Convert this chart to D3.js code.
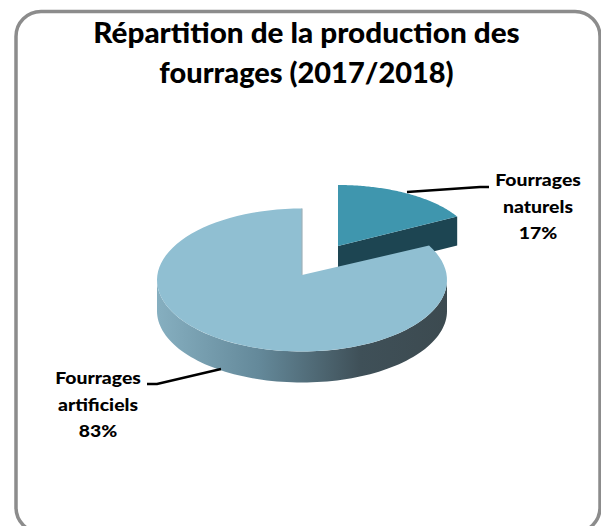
<!DOCTYPE html>
<html><head><meta charset="utf-8">
<script src="https://cdn.jsdelivr.net/npm/d3@7"></script>
<style>html,body{margin:0;padding:0;background:#fff}svg{display:block}text{font-family:Lato,Carlito,sans-serif;font-weight:900;fill:#000}</style>
</head><body><script>
const categories = ["Fourrages naturels", "Fourrages artificiels"];
const shares = [17, 83];
const labelLines = [["Fourrages", "naturels", "17%"], ["Fourrages", "artificiels", "83%"]];
const titleLines = ["Répartition de la production des", "fourrages (2017/2018)"];
const topColors = ["#3f96ae", "#90bfd2"];

const W = 601, H = 526;
const svg = d3.select("body").append("svg").attr("width", W).attr("height", H);
const defs = svg.append("defs");
const grad = defs.append("linearGradient").attr("id", "side");
[[0, "#86afc0"], [0.35, "#64899a"], [0.7, "#3f5058"], [1, "#3c4a50"]].forEach(([o, c]) =>
  grad.append("stop").attr("offset", o).attr("stop-color", c));

svg.append("rect").attr("x", 16).attr("y", 11.5).attr("width", 584).attr("height", 521).attr("rx", 25)
  .attr("fill", "#fff").attr("stroke", "#8c8c8c").attr("stroke-width", 3.5);

// Stretched horizontally, as the reference picture is
function stretchedText(parent, str, x, y, size, sx) {
  parent.append("text").attr("transform", `translate(${x},${y}) scale(${sx},1)`)
    .attr("text-anchor", "middle").attr("font-size", size).text(str);
}
const titleG = svg.append("g");
const titleStretch = [1.06, 1.035];
titleLines.forEach((s, i) => stretchedText(titleG, s, 306.5, 43 + i * 40, 28, titleStretch[i]));

const arcs = d3.pie().sort(null)(shares);
const depth = 31;
const geom = [
  { cx: 338, cy: 246, ax: 338, ay: 246, rx: 136, ry: 61 },
  { cx: 302, cy: 280, ax: 302, ay: 275, rx: 145, ry: 71.5 }
];
const ptX = (g, a) => g.cx + g.rx * Math.sin(a);
const ptY = (g, a) => g.cy - g.ry * Math.cos(a);
const line = d3.line().x(d => d[0]).y(d => d[1]);
const samples = (a0, a1) => d3.range(0, 91).map(i => a0 + (a1 - a0) * i / 90);

function rimPath(g, a0, a1) {
  const s = samples(a0, a1);
  const upper = s.map(a => [ptX(g, a), ptY(g, a)]);
  const lower = s.slice().reverse().map(a => [ptX(g, a), ptY(g, a) + depth]);
  return line(upper.concat(lower)) + "Z";
}
function topPath(g, d) {
  return line([[g.ax, g.ay]].concat(samples(d.startAngle, d.endAngle).map(a => [ptX(g, a), ptY(g, a)]))) + "Z";
}
const pie = svg.append("g");

// exploded slice: cut face below its trailing edge, then top
const g0 = geom[0], a0 = arcs[0];
const p0 = [ptX(g0, a0.endAngle), ptY(g0, a0.endAngle)];
pie.append("path").attr("fill", "#1d4552")
  .attr("d", line([[g0.ax, g0.ay], p0, [p0[0], p0[1] + depth - 2], [g0.ax, g0.ay + depth - 2]]) + "Z");
pie.append("path").attr("d", topPath(g0, a0)).attr("fill", topColors[0]);

// large slice: front rim, top, inner wall edge
const g1 = geom[1], a1 = arcs[1];
pie.append("path").attr("fill", "url(#side)").attr("d", rimPath(g1, Math.PI / 2, 3 * Math.PI / 2));
pie.append("path").attr("d", topPath(g1, a1)).attr("fill", topColors[1]);
pie.append("path").attr("fill", "none").attr("stroke", "#9fb2ba").attr("stroke-width", 1.2)
  .attr("d", line([[g1.ax, g1.cy - g1.ry], [g1.ax, g1.ay]]));

// leader lines
const leaders = [
  [[407, 192], [480, 187], [489, 187]],
  [[221, 369], [157, 384], [147, 384]]
];
svg.append("g").selectAll("path").data(leaders).join("path")
  .attr("d", d => line(d)).attr("fill", "none").attr("stroke", "#000").attr("stroke-width", 2.4);

// labels
const labelPos = [[538, 186], [98, 384]];
labelLines.forEach((lines, i) => {
  const g = svg.append("g");
  lines.forEach((s, j) => stretchedText(g, s, labelPos[i][0], labelPos[i][1] + j * 26.5, 17, 1.14));
});
</script></body></html>
